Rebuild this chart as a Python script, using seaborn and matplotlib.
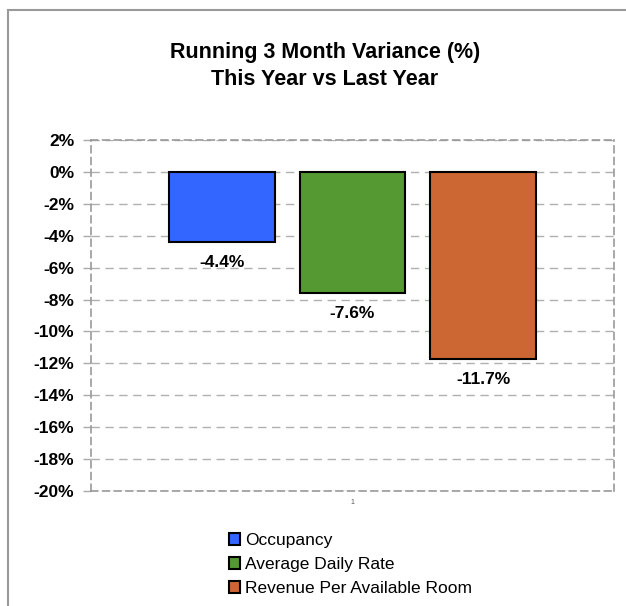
import matplotlib
matplotlib.use("Agg")
import matplotlib.pyplot as plt
import seaborn as sns
import pandas as pd
from matplotlib.patches import Rectangle, Patch

# ---- data ----
categories = ["1"]
metrics = ["Occupancy", "Average Daily Rate", "Revenue Per Available Room"]
values = [-4.4, -7.6, -11.7]
colors = ["#3366FF", "#559933", "#CC6633"]
yticks = [2, 0, -2, -4, -6, -8, -10, -12, -14, -16, -18, -20]
title_lines = ["Running 3 Month Variance (%)", "This Year vs Last Year"]

df = pd.DataFrame({"cat": categories * len(metrics), "metric": metrics, "value": values})

sns.set_style("white")
plt.rcParams["font.family"] = ["Liberation Sans", "DejaVu Sans"]
plt.rcParams["text.color"] = "black"
plt.rcParams["ytick.labelcolor"] = "black"

fig = plt.figure(figsize=(6.26, 6.06), dpi=100)
ax = fig.add_axes([91 / 626, 1 - 491 / 606, (614 - 91) / 626, (491 - 140) / 606])

# outer frame
fig.patches.append(Rectangle((8 / 626, -0.05), 1.2, 1 - 10 / 606 + 0.05, transform=fig.transFigure,
                             fill=False, edgecolor="#999999", linewidth=1.5, zorder=0))

sns.barplot(data=df, x="cat", y="value", hue="metric", hue_order=metrics,
            palette=colors, saturation=1, width=0.75, gap=0.19, edgecolor="black", linewidth=1.5,
            legend=False, ax=ax, zorder=2)

ax.set_ylim(-20, 2)
ax.set_xlim(-0.5, 0.5)
ax.set_yticks(yticks)
ax.set_yticklabels([f"{t}%" for t in yticks], fontsize=12.5, fontweight="bold", color="black")
ax.set_xticks([0])
ax.set_xticklabels(categories, fontsize=5, color="#555555")
ax.tick_params(axis="y", length=6, width=1, color="#aaaaaa", pad=6, left=True)
ax.tick_params(axis="x", length=0, pad=6)
ax.set_xlabel("")
ax.set_ylabel("")

for t in yticks:
    ax.axhline(t, color="#b0b0b0", linestyle=(0, (6, 4)), linewidth=1, zorder=1)
for s in ax.spines.values():
    s.set_visible(True)
    s.set_color("#999999")
    s.set_linestyle((0, (4, 3)))
    s.set_linewidth(1.2)

for bar, v in zip(ax.patches, values):
    ax.annotate(f"{v:.1f}%", (bar.get_x() + bar.get_width() / 2, v), xytext=(0, -15),
                textcoords="offset points", ha="center", va="center",
                fontsize=12.5, fontweight="bold", color="black")

fig.text(325 / 626, 1 - 66 / 606, "\n".join(title_lines), ha="center", va="center",
         fontsize=15.5, fontweight="bold", linespacing=1.4, color="black")

handles = [Patch(facecolor=c, edgecolor="black", linewidth=1.5) for c in colors]
fig.legend(handles, metrics, loc="upper left", bbox_to_anchor=(229 / 626, 1 - 533 / 606),
           frameon=False, fontsize=12.5, handlelength=0.65, handleheight=0.65,
           handletextpad=0.3, labelspacing=0.52, borderpad=0, borderaxespad=0,
           labelcolor="black")

fig.savefig("out.png", dpi=100)
